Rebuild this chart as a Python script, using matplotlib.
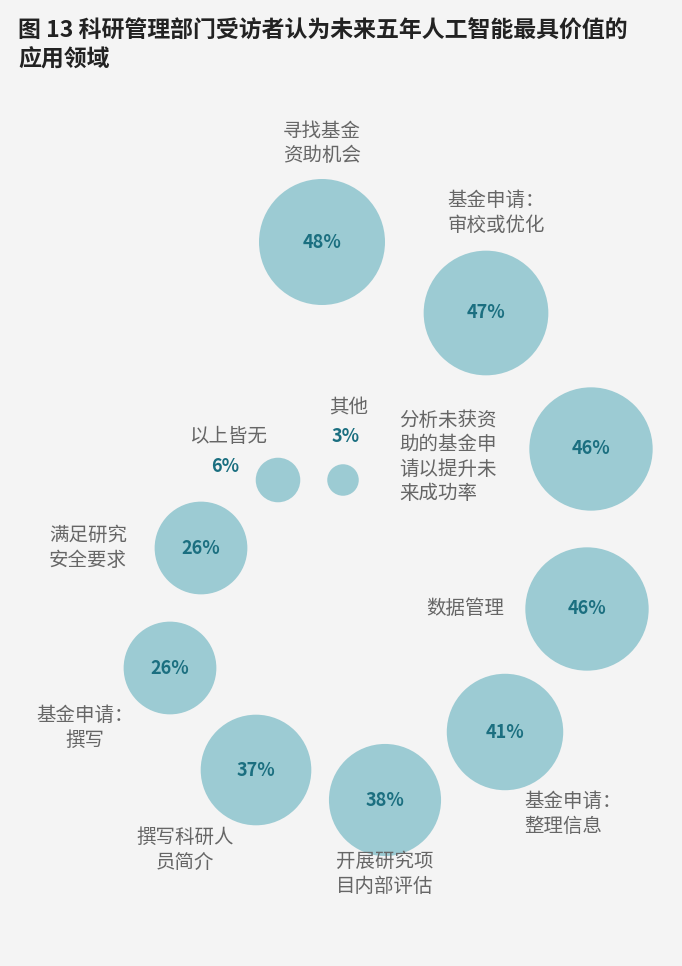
import matplotlib.pyplot as plt
from matplotlib.patches import Circle
import numpy as np

plt.rcParams['font.family'] = ['Noto Sans CJK SC', 'DejaVu Sans']

title = "图 13 科研管理部门受访者认为未来五年人工智能最具价值的\n应用领域"
categories = ["寻找基金\n资助机会", "基金申请：\n审校或优化", "分析未获资\n助的基金申\n请以提升未\n来成功率",
              "数据管理", "基金申请：\n整理信息", "开展研究项\n目内部评估", "撰写科研人\n员简介",
              "基金申请：\n撰写", "满足研究\n安全要求", "以上皆无", "其他"]
values = [48, 47, 46, 46, 41, 38, 37, 26, 26, 6, 3]

# layout (pixel coords)
centers = [(322, 242), (486, 313), (591, 449), (587, 609), (505, 732), (385, 800),
           (256, 770), (170, 668), (201, 548), (278, 480), (343, 480)]
label_pos = [(322, 143, 'center'), (447, 213, 'left'), (399, 457, 'left'), (504, 609, 'right'),
             (524, 814, 'left'), (385, 874, 'center'), (185, 850, 'center'), (85, 728, 'center'),
             (88, 548, 'center'), (228, 437, 'center'), (349, 408, 'center')]

bg = '#f4f4f4'
circ_col = '#9ccbd3'
pct_col = '#1b6f80'
lab_col = '#666666'

fig = plt.figure(figsize=(6.82, 9.66), dpi=100, facecolor=bg)
ax = fig.add_axes([0, 0, 1, 1])
ax.set_facecolor(bg)
ax.set_xlim(0, 682)
ax.set_ylim(966, 0)
ax.axis('off')

k = 63 / np.sqrt(48)
for i, (v, c) in enumerate(zip(values, centers)):
    ax.add_patch(Circle(c, k * np.sqrt(v), color=circ_col, lw=0))
    lx, ly, ha = label_pos[i]
    if v >= 20:
        ax.text(c[0], c[1], f"{v}%", ha='center', va='center', fontsize=13,
                fontweight='bold', color=pct_col)
        ax.text(lx, ly, categories[i], ha=ha, va='center', fontsize=14, color=lab_col,
                linespacing=1.2)
    else:
        ax.text(lx, ly, categories[i], ha=ha, va='center', fontsize=14, color=lab_col)
        ax.text(lx - 3, ly + 29, f"{v}%", ha=ha, va='center', fontsize=13,
                fontweight='bold', color=pct_col)

ax.text(18, 20, title, ha='left', va='top', fontsize=16.5, fontweight='bold',
        color='#222222', linespacing=1.3)

fig.savefig('out.png', dpi=100, facecolor=bg)
